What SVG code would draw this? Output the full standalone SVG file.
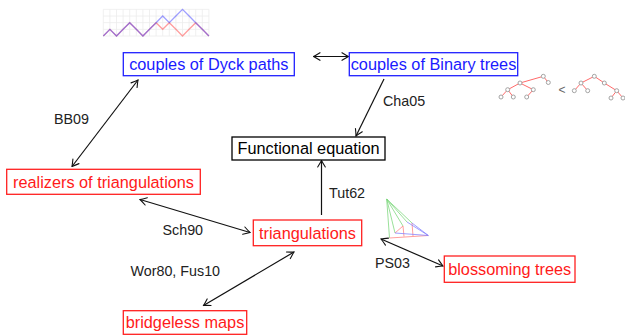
<svg xmlns="http://www.w3.org/2000/svg" width="625" height="335" viewBox="0 0 625 335">
  <defs>
    <marker id="tip" viewBox="-8 -5 9 10" refX="0" refY="0" markerWidth="9" markerHeight="10" markerUnits="userSpaceOnUse" orient="auto-start-reverse">
      <path d="M-6.5,-3.8 Q-2,-1 0,0 Q-2,1 -6.5,3.8" fill="none" stroke="#111" stroke-width="1.1" stroke-linecap="round"/>
    </marker>
    <style>
      .box { fill: #fff; stroke-width: 1.3; }
      .blue { stroke: #2020ff; }
      .red { stroke: #ff2020; }
      .black { stroke: #000; }
      .t { font-family: "Liberation Sans", Arial, sans-serif; font-size: 16.3px; text-anchor: middle; }
      .tb { fill: #1a1aff; }
      .tr { fill: #ff1a1a; }
      .tk { fill: #000; }
      .lbl { font-family: "Liberation Sans", Arial, sans-serif; font-size: 14.3px; fill: #222; }
      .edge { stroke: #111; stroke-width: 1.2; fill: none; }
      .grid { stroke: #ececec; stroke-width: 0.8; fill: none; }
      .tree line { stroke: #ff6a6a; stroke-width: 1; }
      .tree circle { fill: #fff; stroke: #9a9a9a; stroke-width: 0.9; }
    </style>
  </defs>

  <!-- Dyck path pair icon -->
  <g id="dyck-icon">
    <path class="grid" d="M103.3,9.3V36M109.9,9.3V36M116.5,9.3V36M123.1,9.3V36M129.7,9.3V36M136.3,9.3V36M142.9,9.3V36M149.5,9.3V36M156.1,9.3V36M162.7,9.3V36M169.3,9.3V36M175.9,9.3V36M182.5,9.3V36M189.1,9.3V36M195.7,9.3V36M202.3,9.3V36M208.9,9.3V36M103.3,9.33H208.9M103.3,16H208.9M103.3,22.67H208.9M103.3,29.33H208.9M103.3,36H208.9"/>
    <polyline fill="none" stroke="#ff4040" stroke-opacity="0.5" stroke-width="1.3" points="103.3,36 109.9,29.33 116.5,36 123.1,29.33 129.7,22.67 136.3,29.33 142.9,36 149.5,29.33 156.1,22.67 162.7,29.33 169.3,22.67 175.9,29.33 182.5,36 189.1,29.33 195.7,22.67 202.3,29.33 208.9,36"/>
    <polyline fill="none" stroke="#4040ff" stroke-opacity="0.5" stroke-width="1.3" points="103.3,36 109.9,29.33 116.5,36 123.1,29.33 129.7,22.67 136.3,29.33 142.9,36 149.5,29.33 156.1,22.67 162.7,16 169.3,22.67 175.9,16 182.5,9.33 189.1,16 195.7,22.67 202.3,29.33 208.9,36"/>
  </g>

  <!-- Binary tree pair icon -->
  <g id="trees-icon" class="tree">
    <line x1="543.3" y1="76.3" x2="548.3" y2="82.5"/>
    <line x1="543.3" y1="76.3" x2="520" y2="83"/>
    <line x1="520" y1="83" x2="507.7" y2="89.7"/>
    <line x1="520" y1="83" x2="533.3" y2="89.7"/>
    <line x1="507.7" y1="89.7" x2="501" y2="97"/>
    <line x1="507.7" y1="89.7" x2="513.3" y2="97"/>
    <line x1="533.3" y1="89.7" x2="526.7" y2="97"/>
    <circle cx="543.3" cy="76.3" r="2"/>
    <circle cx="548.3" cy="82.5" r="2"/>
    <circle cx="520" cy="83" r="2"/>
    <circle cx="507.7" cy="89.7" r="2"/>
    <circle cx="533.3" cy="89.7" r="2"/>
    <circle cx="501" cy="97" r="2"/>
    <circle cx="513.3" cy="97" r="2"/>
    <circle cx="526.7" cy="97" r="2"/>
    <text x="562" y="93.5" font-family="Liberation Sans, Arial, sans-serif" font-size="12" fill="#666" text-anchor="middle">&lt;</text>
    <line x1="594.3" y1="76.3" x2="581" y2="83"/>
    <line x1="594.3" y1="76.3" x2="604.3" y2="83"/>
    <line x1="581" y1="83" x2="574.3" y2="90.7"/>
    <line x1="581" y1="83" x2="587.7" y2="90.7"/>
    <line x1="604.3" y1="83" x2="616.7" y2="90.7"/>
    <line x1="616.7" y1="90.7" x2="611" y2="98"/>
    <line x1="616.7" y1="90.7" x2="623" y2="98"/>
    <circle cx="594.3" cy="76.3" r="2"/>
    <circle cx="581" cy="83" r="2"/>
    <circle cx="604.3" cy="83" r="2"/>
    <circle cx="574.3" cy="90.7" r="2"/>
    <circle cx="587.7" cy="90.7" r="2"/>
    <circle cx="616.7" cy="90.7" r="2"/>
    <circle cx="611" cy="98" r="2"/>
    <circle cx="623" cy="98" r="2"/>
  </g>

  <!-- Schnyder wood triangle icon -->
  <g id="triangle-icon" fill="none" stroke-width="0.9">
    <g stroke="#7ad67a" stroke-opacity="0.85">
      <line x1="386.7" y1="199" x2="389.5" y2="238"/>
      <line x1="386.7" y1="199" x2="395" y2="233"/>
      <line x1="386.7" y1="199" x2="403" y2="226"/>
      <line x1="386.7" y1="199" x2="412" y2="223"/>
      <line x1="386.7" y1="199" x2="407" y2="222"/>
    </g>
    <g stroke="#ff8080" stroke-opacity="0.85">
      <line x1="389.5" y1="238" x2="428.3" y2="235.5"/>
      <line x1="403" y1="226" x2="404" y2="236.5"/>
      <line x1="412" y1="223" x2="413" y2="236"/>
      <line x1="395" y1="233" x2="403" y2="226"/>
    </g>
    <g stroke="#8080ff" stroke-opacity="0.85">
      <line x1="407" y1="222" x2="428.3" y2="235.5"/>
      <line x1="428.3" y1="235.5" x2="395" y2="233"/>
      <line x1="428.3" y1="235.5" x2="412" y2="223"/>
    </g>
  </g>

  <!-- connectors -->
  <g id="connectors">
    <line class="edge" x1="313.5" y1="56.5" x2="348.5" y2="56.5" marker-start="url(#tip)" marker-end="url(#tip)"/>
    <line class="edge" x1="138" y1="80" x2="72" y2="166.5" marker-start="url(#tip)" marker-end="url(#tip)"/>
    <line class="edge" x1="384" y1="79" x2="356" y2="136" marker-end="url(#tip)"/>
    <line class="edge" x1="321.5" y1="215" x2="321.5" y2="160.5" marker-end="url(#tip)"/>
    <line class="edge" x1="140" y1="199.5" x2="250" y2="232.5" marker-start="url(#tip)" marker-end="url(#tip)"/>
    <line class="edge" x1="294" y1="252" x2="203.5" y2="305.5" marker-start="url(#tip)" marker-end="url(#tip)"/>
    <line class="edge" x1="381" y1="239" x2="443" y2="266" marker-start="url(#tip)" marker-end="url(#tip)"/>
    <text class="lbl" x="54" y="124">BB09</text>
    <text class="lbl" x="383" y="106">Cha05</text>
    <text class="lbl" x="329" y="198">Tut62</text>
    <text class="lbl" x="162.5" y="235">Sch90</text>
    <text class="lbl" x="130.5" y="275.5" font-size="14.6">Wor80, Fus10</text>
    <text class="lbl" x="375" y="267.5">PS03</text>
  </g>

  <!-- nodes -->
  <g id="dyck">
    <rect class="box blue" x="123.3" y="52.7" width="171" height="23"/>
    <text class="t tb" x="208.8" y="70">couples of Dyck paths</text>
  </g>
  <g id="binary">
    <rect class="box blue" x="349.3" y="52.7" width="168.4" height="23"/>
    <text class="t tb" x="433.5" y="70">couples of Binary trees</text>
  </g>
  <g id="functional">
    <rect class="box black" x="232" y="137" width="153" height="23"/>
    <text class="t tk" x="308.5" y="154.3">Functional equation</text>
  </g>
  <g id="realizers">
    <rect class="box red" x="6.7" y="169.3" width="193.6" height="25"/>
    <text class="t tr" x="103.5" y="187.6">realizers of triangulations</text>
  </g>
  <g id="triangulations">
    <rect class="box red" x="253.3" y="220" width="108.4" height="25.7"/>
    <text class="t tr" x="307.5" y="238.6">triangulations</text>
  </g>
  <g id="bridgeless">
    <rect class="box red" x="123.3" y="310.7" width="123.4" height="23.6"/>
    <text class="t tr" x="185" y="328.3">bridgeless maps</text>
  </g>
  <g id="blossoming">
    <rect class="box red" x="444.3" y="256" width="130.7" height="26.3"/>
    <text class="t tr" x="509.7" y="274.8">blossoming trees</text>
  </g>
</svg>
